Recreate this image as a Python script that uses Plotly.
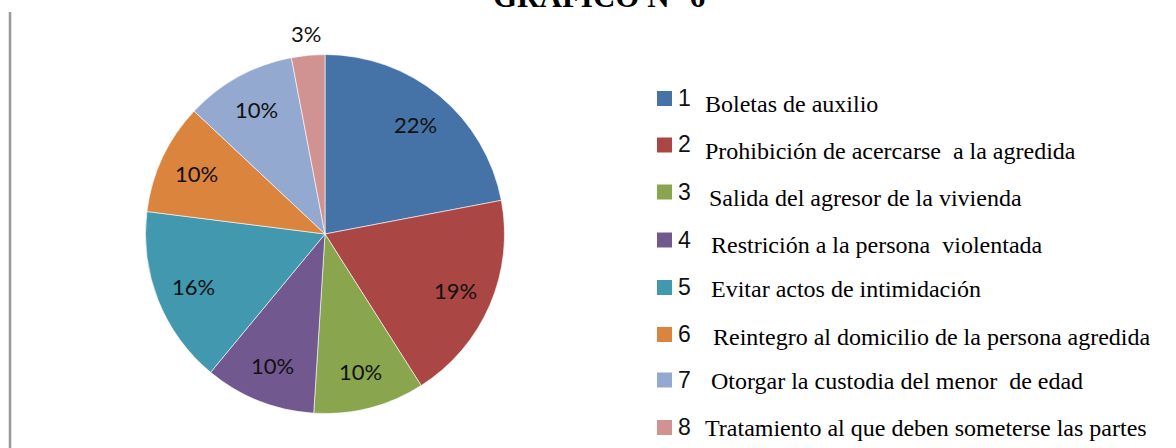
import math
import plotly.graph_objects as go

W, H = 1176, 448

numbers = ["1", "2", "3", "4", "5", "6", "7", "8"]
categories = [
    "Boletas de auxilio",
    "Prohibición de acercarse  a la agredida",
    "Salida del agresor de la vivienda",
    "Restrición a la persona  violentada",
    "Evitar actos de intimidación",
    "Reintegro al domicilio de la persona agredida",
    "Otorgar la custodia del menor  de edad",
    "Tratamiento al que deben someterse las partes",
]
values = [22, 19, 10, 10, 16, 10, 10, 3]
colors = ["#4572A7", "#AA4643", "#89A54E", "#71588F",
          "#4198AF", "#DB843D", "#93A9CF", "#D19392"]
title_text = "GRAFICO N° 6"

# pie geometry (pixels)
cx, cy, R = 325, 234, 179.5

fig = go.Figure()
fig.add_trace(go.Pie(
    labels=categories,
    values=values,
    sort=False,
    direction="clockwise",
    rotation=0,
    marker=dict(colors=colors, line=dict(color="rgba(255,255,255,0.6)", width=1)),
    textinfo="none",
    showlegend=False,
    hoverinfo="label+percent",
    domain=dict(x=[(cx - R) / W, (cx + R) / W], y=[1 - (cy + R) / H, 1 - (cy - R) / H]),
))

annotations = []
shapes = []

# percentage labels placed from the data (mid-angle of each slice)
total = sum(values)
cum = 0
for v in values:
    mid = (cum + v / 2) / total * 2 * math.pi
    cum += v
    frac = 1.12 if v / total < 0.05 else 0.79
    px = cx + frac * R * math.sin(mid)
    py = cy - frac * R * math.cos(mid)
    annotations.append(dict(x=px / W, y=1 - py / H, xref="paper", yref="paper",
                            text=f"{round(100 * v / total)}%", showarrow=False,
                            xanchor="center", yanchor="middle",
                            font=dict(family="Lato, Open Sans, sans-serif", size=22, color="#111111")))

# custom legend (layout)
square_y = [98.5, 145, 192, 240, 287.5, 334.5, 380, 427.5]
text_y = [104, 151, 198, 245, 289, 337, 381, 428]
text_x = [703, 703, 707, 709, 709, 711, 709, 703]
for i, (num, cat, col) in enumerate(zip(numbers, categories, colors)):
    sy = square_y[i]
    shapes.append(dict(type="rect", xref="paper", yref="paper",
                       x0=657 / W, x1=672 / W,
                       y0=1 - (sy + 7.5) / H, y1=1 - (sy - 7.5) / H,
                       fillcolor=col, line=dict(width=0)))
    annotations.append(dict(x=676 / W, y=1 - (sy - 0.5) / H, xref="paper", yref="paper",
                            text=num, showarrow=False, xanchor="left", yanchor="middle",
                            font=dict(family="Liberation Sans, Arial", size=23, color="#111111")))
    annotations.append(dict(x=text_x[i] / W, y=1 - text_y[i] / H, xref="paper", yref="paper",
                            text=cat, showarrow=False, xanchor="left", yanchor="middle",
                            font=dict(family="Liberation Serif, Times New Roman", size=24, color="#000000")))

annotations.append(dict(x=599 / W, y=1 + 3 / H, xref="paper", yref="paper",
                        text="<b>" + title_text + "</b>", showarrow=False,
                        xanchor="center", yanchor="middle",
                        font=dict(family="Liberation Serif, Times New Roman", size=31, color="#000000")))

shapes.append(dict(type="line", xref="paper", yref="paper",
                   x0=10 / W, x1=10 / W, y0=0, y1=1 - 12 / H,
                   line=dict(color="#999999", width=2.5)))

fig.update_layout(
    width=W, height=H,
    margin=dict(l=0, r=0, t=0, b=0),
    paper_bgcolor="white", plot_bgcolor="white",
    annotations=annotations, shapes=shapes,
    showlegend=False,
)

fig.write_html("out.html", config={"displayModeBar": False},
               post_script="document.body.style.margin='0';document.body.style.overflow='hidden';")
